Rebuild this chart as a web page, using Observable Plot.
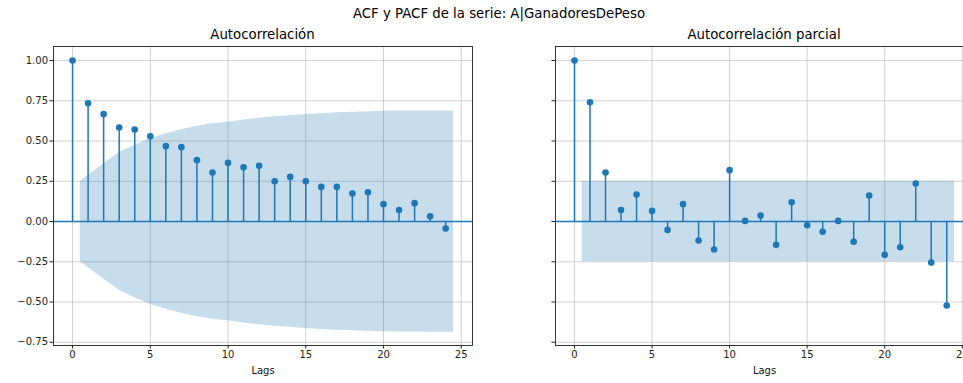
<!DOCTYPE html>
<html>
<head>
<meta charset="utf-8">
<script src="https://cdn.jsdelivr.net/npm/d3@7"></script>
<script src="https://cdn.jsdelivr.net/npm/@observablehq/plot@0.6"></script>
<style>
  body { margin: 0; background: #fff; }
  #fig { position: relative; width: 963px; height: 383px; overflow: hidden;
         font-family: "DejaVu Sans", sans-serif; color: #000; background: #fff; }
  #fig .t { position: absolute; white-space: nowrap; transform: translate(-50%, -50%); }
  #fig svg { position: absolute; top: 0; overflow: visible; }
</style>
</head>
<body>
<div id="fig">
  <div class="t" style="left:499px;top:13px;font-size:13.3px">ACF y PACF de la serie: A|GanadoresDePeso</div>
  <div class="t" style="left:262.5px;top:34px;font-size:13.3px">Autocorrelación</div>
  <div class="t" style="left:764px;top:34px;font-size:13.3px">Autocorrelación parcial</div>
</div>
<script>
// Lags 0..24
const lags = [0, 1, 2, 3, 4, 5, 6, 7, 8, 9, 10, 11, 12, 13, 14, 15, 16, 17, 18, 19, 20, 21, 22, 23, 24];

// Sample autocorrelation
const acfValues = [1.00, 0.735, 0.667, 0.584, 0.571, 0.530, 0.468, 0.462, 0.381, 0.304, 0.364, 0.337,
                   0.346, 0.250, 0.277, 0.250, 0.215, 0.215, 0.174, 0.182, 0.108, 0.072, 0.114, 0.033, -0.043];

// Partial autocorrelation
const pacfValues = [1.00, 0.741, 0.304, 0.072, 0.168, 0.066, -0.052, 0.108, -0.118, -0.174, 0.319, 0.004,
                    0.037, -0.145, 0.120, -0.023, -0.064, 0.004, -0.126, 0.161, -0.207, -0.160, 0.236, -0.255, -0.522];

// 95% confidence band (half-width) for the ACF, lags 1..24 (ends widened by half a lag)
const acfBandX = [0.5, 2, 3, 4, 5, 6, 7, 8, 9, 10, 11, 12, 13, 14, 15, 16, 17, 18, 19, 20, 21, 22, 23, 24.5];
const acfBandHalf = [0.25, 0.357, 0.427, 0.473, 0.514, 0.545, 0.570, 0.592, 0.607, 0.617, 0.630, 0.641,
                     0.651, 0.657, 0.665, 0.670, 0.675, 0.679, 0.681, 0.685, 0.686, 0.686, 0.687, 0.687];

// 95% confidence band (half-width) for the PACF
const pacfBandX = [0.5, 24.5];
const pacfBandHalf = [0.25, 0.25];

// Axis ticks
const xTicks = [0, 5, 10, 15, 20, 25];
const yTicks = [-0.75, -0.5, -0.25, 0, 0.25, 0.5, 0.75, 1.0];

const blue = "#1f77b4";
const xDomain = [-1.225, 25.725];
const yDomain = [-0.770, 1.087];

function corrPlot({values, bandX, bandHalf, showYLabels, width, marginLeft, marginRight}) {
  const pts = lags.map((l, i) => ({lag: l, v: values[i]}));
  const band = bandX.map((x, i) => ({x, lo: -bandHalf[i], hi: bandHalf[i]}));
  return Plot.plot({
    width,
    height: 383,
    marginTop: 46,
    marginBottom: 38,
    marginLeft,
    marginRight,
    style: {fontFamily: "DejaVu Sans, sans-serif", fontSize: "10px", color: "#222", background: "transparent", overflow: "visible"},
    x: {domain: xDomain},
    y: {domain: yDomain},
    marks: [
      Plot.gridX(xTicks, {stroke: "#b0b0b0", strokeOpacity: 0.7, strokeWidth: 0.8}),
      Plot.gridY(yTicks, {stroke: "#b0b0b0", strokeOpacity: 0.7, strokeWidth: 0.8}),
      Plot.areaY(band, {x: "x", y1: "lo", y2: "hi", fill: blue, fillOpacity: 0.25}),
      Plot.ruleY([0], {stroke: blue, strokeWidth: 1.5}),
      Plot.ruleX(pts, {x: "lag", y1: 0, y2: "v", stroke: blue, strokeWidth: 1.5}),
      Plot.dot(pts, {x: "lag", y: "v", r: 3.3, fill: blue, stroke: "none"}),
      Plot.frame({stroke: "#222", strokeWidth: 0.9}),
      Plot.axisX(xTicks, {tickSize: 3.5, tickPadding: 2, tickFormat: d3.format("d"), label: null, fill: "#222"}),
      Plot.axisY(yTicks, {tickSize: 3.5, tickPadding: 2,
        tickFormat: showYLabels ? d3.format(".2f") : () => "", label: null, fill: "#222"}),
      Plot.text(["Lags"], {frameAnchor: "bottom", dy: 28, fontSize: 10, fill: "#111"})
    ]
  });
}

const fig = document.getElementById("fig");

const left = corrPlot({values: acfValues, bandX: acfBandX, bandHalf: acfBandHalf,
  showYLabels: true, width: 480, marginLeft: 53, marginRight: 8});
left.style.left = "0px";
fig.appendChild(left);

const right = corrPlot({values: pacfValues, bandX: pacfBandX, bandHalf: pacfBandHalf,
  showYLabels: false, width: 503, marginLeft: 75, marginRight: 10});
right.style.left = "480px";
fig.appendChild(right);
</script>
</body>
</html>
